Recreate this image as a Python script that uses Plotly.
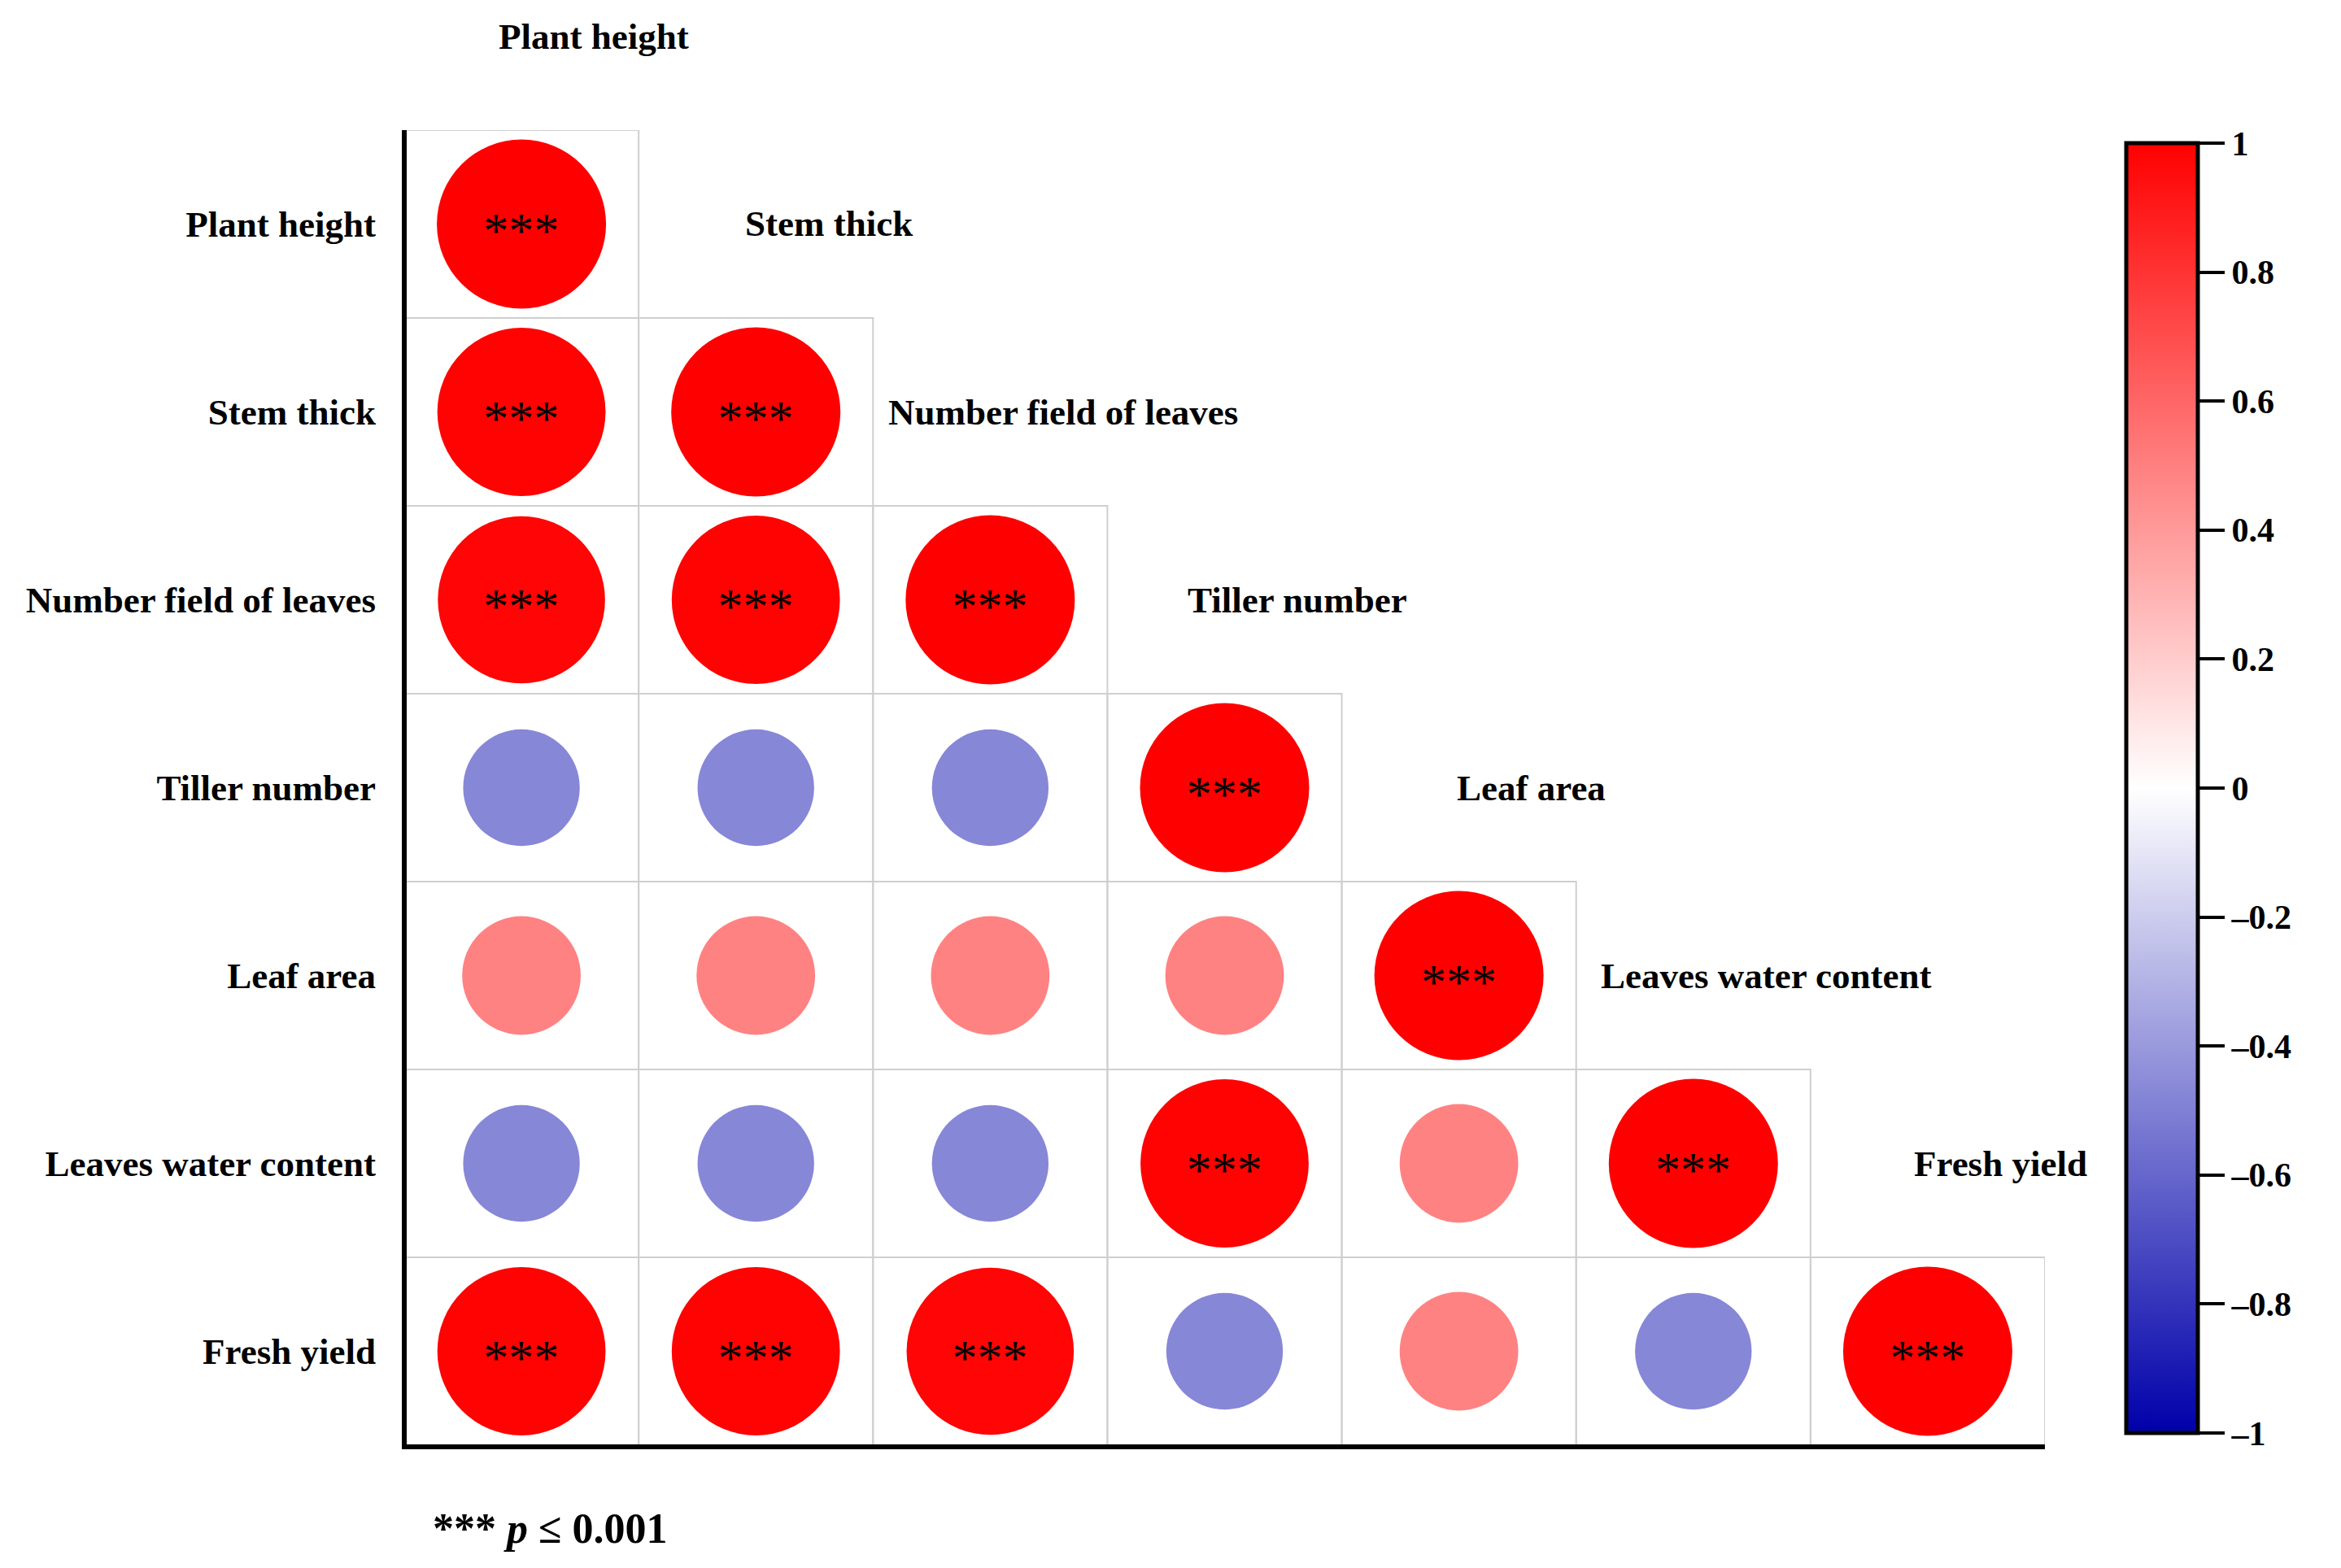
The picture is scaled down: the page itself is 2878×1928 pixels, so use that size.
import plotly.graph_objects as go

variables = ["Plant height", "Stem thick", "Number field of leaves", "Tiller number",
             "Leaf area", "Leaves water content", "Fresh yield"]

# lower-triangular correlation rows
r_plant  = [1.00]
r_stem   = [0.99, 1.00]
r_leaves = [0.98, 0.99, 1.00]
r_tiller = [-0.47, -0.47, -0.47, 1.00]
r_area   = [0.49, 0.49, 0.49, 0.49, 1.00]
r_water  = [-0.47, -0.47, -0.47, 0.99, 0.49, 1.00]
r_yield  = [0.99, 0.99, 0.98, -0.47, 0.49, -0.47, 1.00]

s_plant  = ["***"]
s_stem   = ["***", "***"]
s_leaves = ["***", "***", "***"]
s_tiller = ["", "", "", "***"]
s_area   = ["", "", "", "", "***"]
s_water  = ["", "", "", "***", "", "***"]
s_yield  = ["***", "***", "***", "", "", "", "***"]

cbar_vals = [1, 0.8, 0.6, 0.4, 0.2, 0, -0.2, -0.4, -0.6, -0.8, -1]
cbar_text = ["1", "0.8", "0.6", "0.4", "0.2", "0", "–0.2", "–0.4", "–0.6", "–0.8", "–1"]

rows = [r_plant, r_stem, r_leaves, r_tiller, r_area, r_water, r_yield]
sigs = [s_plant, s_stem, s_leaves, s_tiller, s_area, s_water, s_yield]

xs, ys, vals, txt = [], [], [], []
for i, (row, srow) in enumerate(zip(rows, sigs), start=1):
    for j, (v, s) in enumerate(zip(row, srow), start=1):
        xs.append(j)
        ys.append(i)
        vals.append(v)
        txt.append(s)

sizes = [86 + 122 * abs(v) for v in vals]

SERIF = "Liberation Serif"
colorscale = [[0.0, "#0000AA"], [0.5, "#FFFFFF"], [1.0, "#FF0000"]]

n = len(variables)
PW, PH = 2017, 1617  # plot area size in px

fig = go.Figure()

# cell borders
for i in range(1, n + 1):
    for j in range(1, i + 1):
        fig.add_shape(type="rect", xref="x", yref="y",
                      x0=j - 0.5, x1=j + 0.5, y0=i - 0.5, y1=i + 0.5,
                      line=dict(color="#cfcfcf", width=2), layer="below")

# L-shaped black axis frame on the plot edges (paper refs -> not clipped)
yb = -2 / PH
fig.add_shape(type="path", xref="paper", yref="paper",
              path=f"M 0,1 L 0,{yb} L 1,{yb}",
              line=dict(color="black", width=6), layer="above")

fig.add_trace(go.Scatter(
    x=xs, y=ys, mode="markers",
    marker=dict(size=sizes, color=vals, colorscale=colorscale, cmin=-1, cmax=1,
                line=dict(width=0), opacity=1,
                colorbar=dict(
                    x=(2614 - 497) / PW, xanchor="left", xpad=0,
                    y=0.4997, yanchor="middle", ypad=0,
                    len=(1762 - 176) / PH, lenmode="fraction",
                    thickness=88, thicknessmode="pixels",
                    outlinecolor="black", outlinewidth=5,
                    ticks="outside", ticklen=31, tickwidth=4, tickcolor="black",
                    tickvals=cbar_vals, ticktext=cbar_text,
                    tickfont=dict(family=SERIF, size=42, color="black", weight="bold"),
                )),
    hoverinfo="skip", showlegend=False, cliponaxis=False,
))

# significance stars (nudged down so the glyphs sit at the circle centre)
fig.add_trace(go.Scatter(
    x=xs, y=[y + 0.055 for y in ys], mode="text", text=txt,
    textposition="middle center",
    textfont=dict(family=SERIF, size=62, color="black"),
    hoverinfo="skip", showlegend=False, cliponaxis=False,
))

# diagonal labels (paper coords so the top one is not hidden)
for k, name in enumerate(variables, start=1):
    fig.add_annotation(x=(k + 0.31 - 0.5) / n, y=1 - (k - 1 - 0.5) / n,
                       xref="paper", yref="paper", text=name,
                       showarrow=False, xanchor="center", yanchor="middle",
                       font=dict(family=SERIF, size=45, color="black", weight="bold"))

fig.add_annotation(x=(530 - 497) / PW, y=(1777 - 1879) / PH, xref="paper", yref="paper",
                   text="<b>*** <i>p</i> ≤ 0.001</b>", showarrow=False,
                   xanchor="left", yanchor="middle",
                   font=dict(family=SERIF, size=52, color="black"))

# page body has an 8px margin, so the figure is drawn 8px in from the corner
fig.update_layout(
    width=2870, height=1920,
    margin=dict(l=489, r=2870 - 489 - PW, t=152, b=1920 - 152 - PH, pad=0),
    paper_bgcolor="white", plot_bgcolor="white",
    xaxis=dict(range=[0.5, n + 0.5], showgrid=False, zeroline=False, showticklabels=False,
               ticks="", showline=False),
    yaxis=dict(range=[n + 0.5, 0.5], showgrid=False, zeroline=False,
               tickvals=list(range(1, n + 1)), ticktext=variables,
               tickfont=dict(family=SERIF, size=45, color="black", weight="bold"),
               ticks="", ticklabelstandoff=34, showline=False),
)

fig.write_html("out.html")
